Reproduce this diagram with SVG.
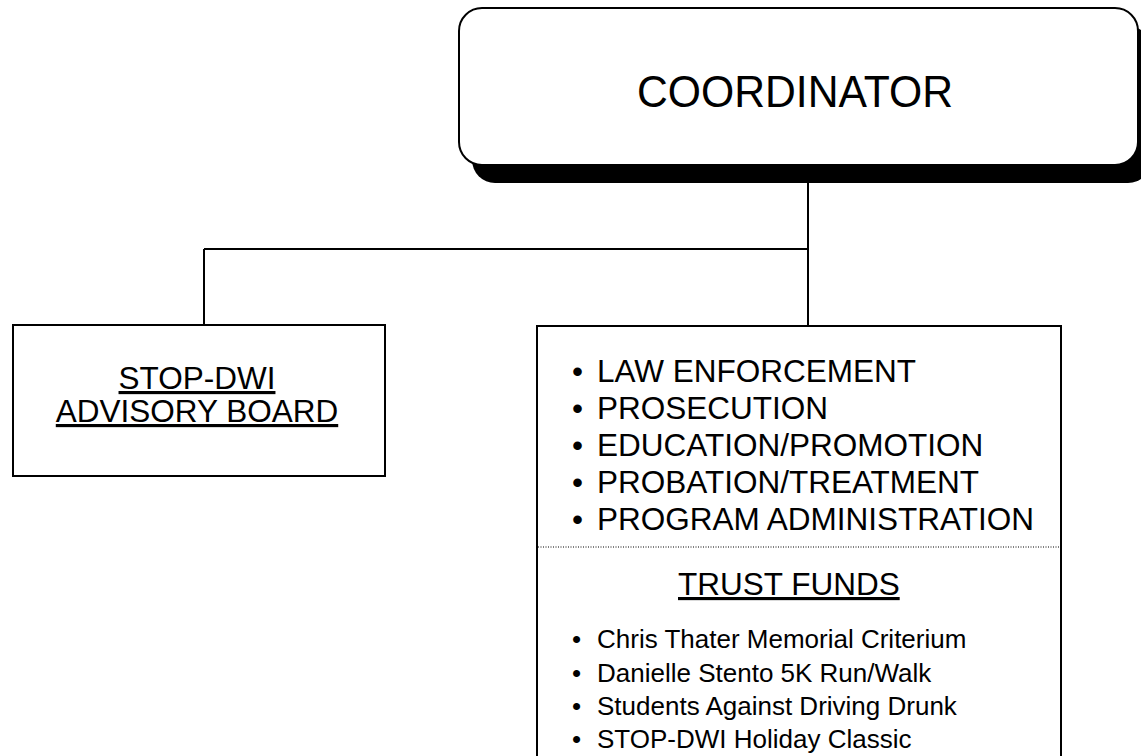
<svg xmlns="http://www.w3.org/2000/svg" width="1141" height="756" viewBox="0 0 1141 756">
<style>
.box{fill:#fff;stroke:#000;stroke-width:2}
.t{font-family:"Liberation Sans",Arial,sans-serif;fill:#000}
.c{stroke:#000;stroke-width:2;fill:none}
</style>
<rect width="1141" height="756" fill="#fff"/>
<g id="coordinator">
<rect x="472" y="26" width="679" height="157" rx="23" fill="#000"/>
<rect class="box" x="459" y="8" width="679" height="157" rx="23"/>
<text class="t" x="795" y="107" font-size="44" text-anchor="middle" textLength="316" lengthAdjust="spacingAndGlyphs">COORDINATOR</text>
</g>
<g id="connectors">
<path class="c" d="M808 183 V327"/>
<path class="c" d="M204 249 H808"/>
<path class="c" d="M204 249 V325"/>
</g>
<g id="advisory">
<rect class="box" x="13" y="325" width="372" height="151"/>
<text class="t" x="197" y="389" font-size="31.5" text-anchor="middle" text-decoration="underline">STOP-DWI</text>
<text class="t" x="197" y="422" font-size="31.5" text-anchor="middle" text-decoration="underline">ADVISORY BOARD</text>
</g>
<g id="programs">
<rect class="box" x="537" y="326" width="524" height="440"/>
<g class="t" font-size="31.5">
<text x="572" y="382">•</text><text x="597" y="382">LAW ENFORCEMENT</text>
<text x="572" y="419">•</text><text x="597" y="419">PROSECUTION</text>
<text x="572" y="456">•</text><text x="597" y="456">EDUCATION/PROMOTION</text>
<text x="572" y="493">•</text><text x="597" y="493">PROBATION/TREATMENT</text>
<text x="572" y="530">•</text><text x="597" y="530">PROGRAM ADMINISTRATION</text>
</g>
<path d="M538 547 H1060" stroke="#000" stroke-width="1" stroke-dasharray="1 1.5"/>
<text class="t" x="678" y="595" font-size="31.5" text-decoration="underline">TRUST FUNDS</text>
<g class="t" font-size="26">
<text x="572" y="648">•</text><text x="597" y="648">Chris Thater Memorial Criterium</text>
<text x="572" y="682">•</text><text x="597" y="682">Danielle Stento 5K Run/Walk</text>
<text x="572" y="715">•</text><text x="597" y="715">Students Against Driving Drunk</text>
<text x="572" y="748">•</text><text x="597" y="748">STOP-DWI Holiday Classic</text>
</g>
</g>
</svg>
